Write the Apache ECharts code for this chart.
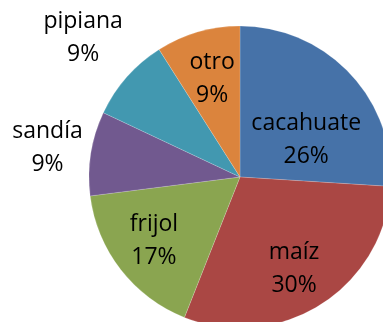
<!DOCTYPE html>
<html>
<head>
<meta charset="utf-8">
<style>
  html, body { margin: 0; padding: 0; background: #fff; }
  #chart { width: 383px; height: 322px; }
</style>
<script src="https://cdn.jsdelivr.net/npm/echarts@6/dist/echarts.min.js"></script>
</head>
<body>
<div id="chart"></div>
<script>
// Crop shares (percent), clockwise from 12 o'clock
const categories = ['cacahuate', 'maíz', 'frijol', 'sandía', 'pipiana', 'otro'];
const shares = [26, 30, 17, 9, 9, 9];
const colors = ['#4672A8', '#AA4744', '#8AA550', '#71598F', '#4298B0', '#DB843D'];

// Label nudges from the default inside position, per slice
const labelShift = [
  [9, 17], [12, 26], [-24, 16], [-115, -17], [-98, -87], [-6, -23]
];

const chart = echarts.init(document.getElementById('chart'), null, { renderer: 'canvas' });

chart.setOption({
  animation: false,
  series: [{
    type: 'pie',
    center: [240, 177],
    radius: 151,
    startAngle: 90,
    clockwise: true,
    silent: true,
    data: categories.map((name, i) => ({
      name,
      value: shares[i],
      itemStyle: { color: colors[i] }
    })),
    itemStyle: { borderColor: 'rgba(255,255,255,0.35)', borderWidth: 0.5 },
    label: {
      show: true,
      position: 'inside',
      formatter: p => p.name + '\n' + p.value + '%',
      fontFamily: 'Open Sans',
      fontSize: 23,
      lineHeight: 33,
      color: '#000',
      align: 'center'
    },
    labelLine: { show: false },
    labelLayout: p => ({ dx: labelShift[p.dataIndex][0], dy: labelShift[p.dataIndex][1] })
  }]
});
</script>
</body>
</html>
